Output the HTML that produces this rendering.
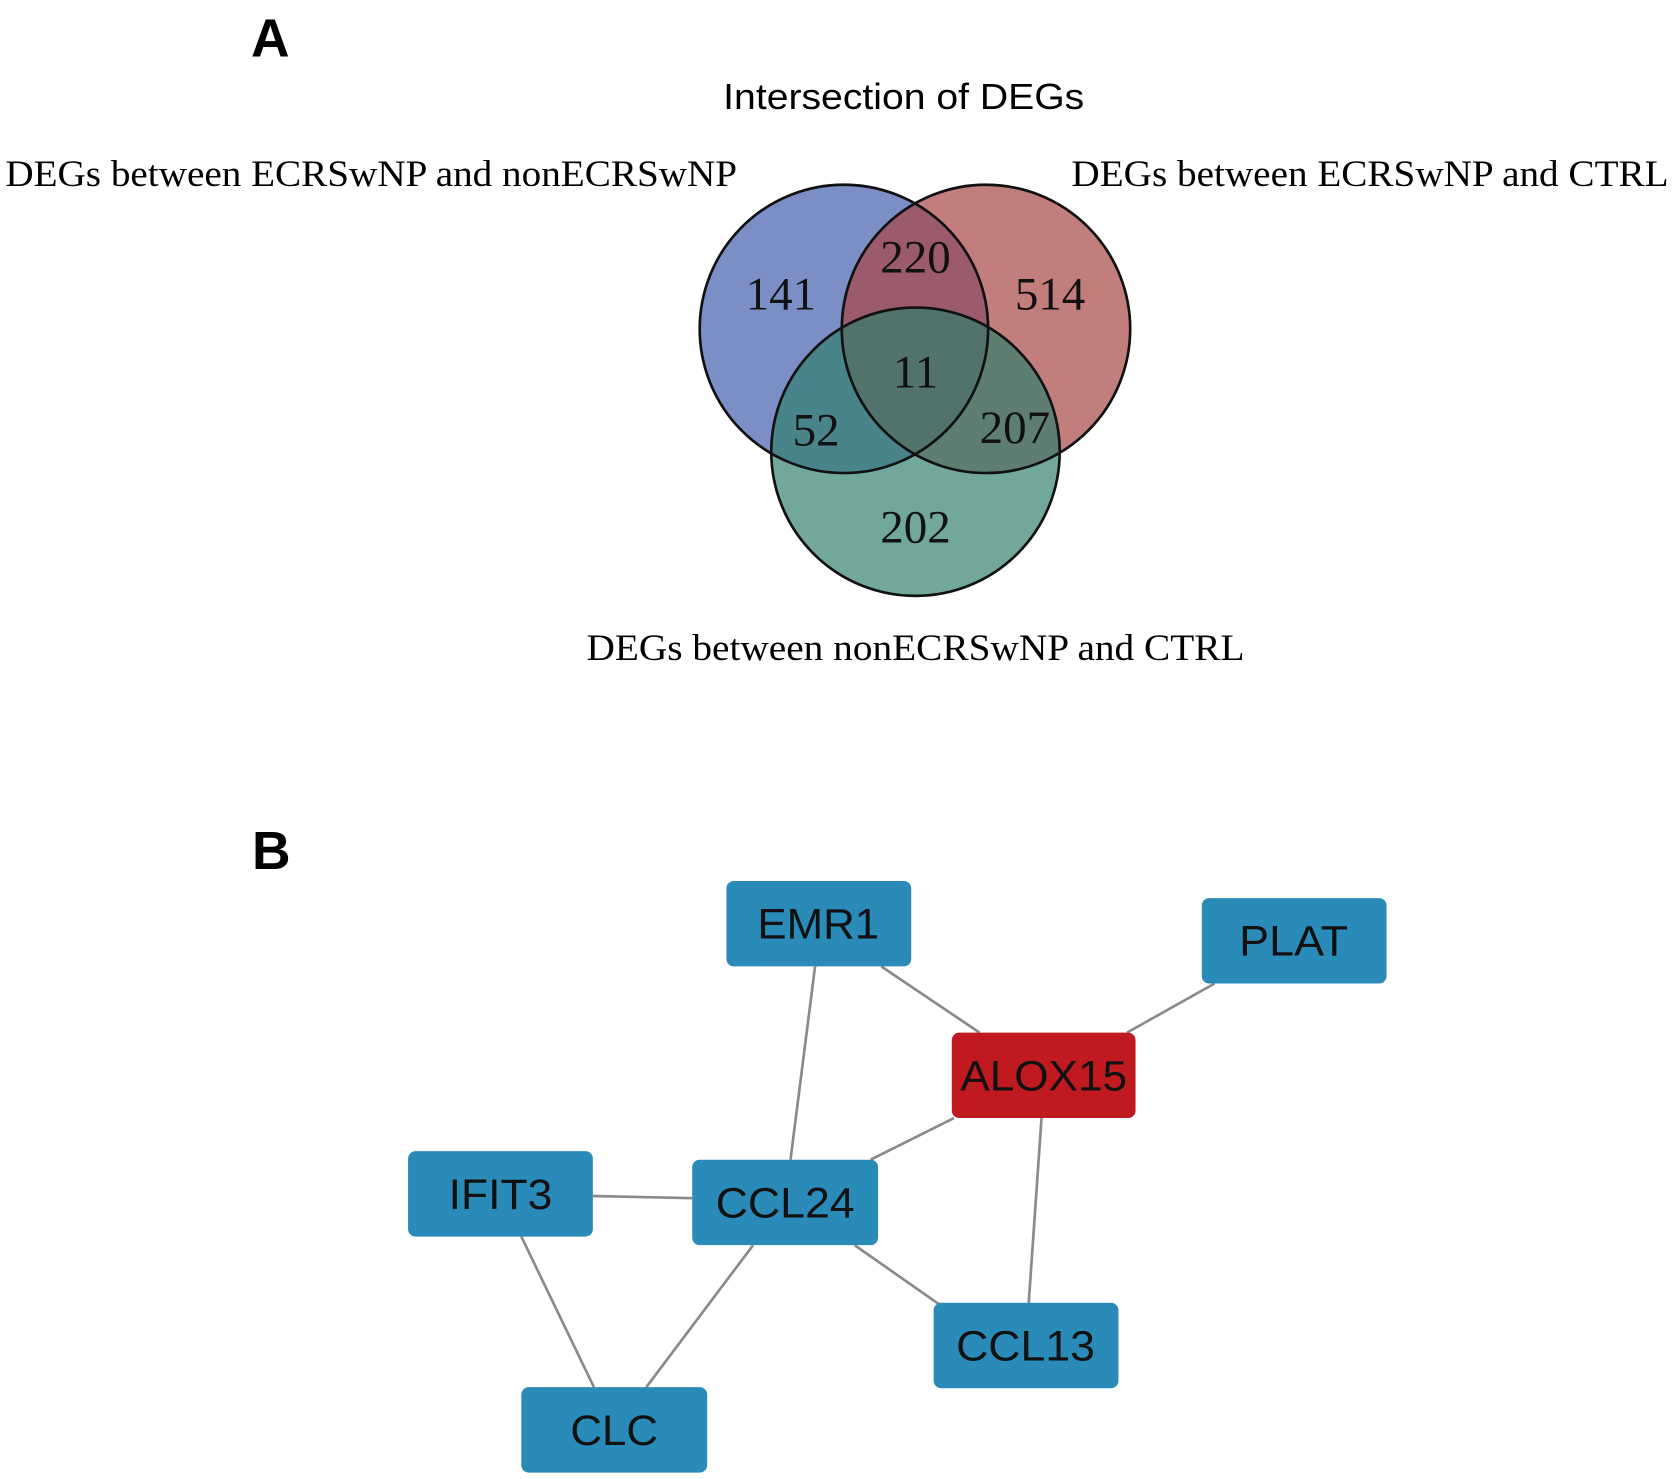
<!DOCTYPE html>
<html><head><meta charset="utf-8"><style>
html,body{margin:0;padding:0;background:#fff;}
svg{display:block;}
</style></head><body>
<svg width="1675" height="1479" viewBox="0 0 1568 1385" preserveAspectRatio="none" xmlns="http://www.w3.org/2000/svg">
<rect width="1568" height="1385" fill="#fff"/>
<text x="253" y="53" font-family="Liberation Sans, sans-serif" font-weight="bold" font-size="50" text-anchor="middle">A</text>
<text x="254" y="814" font-family="Liberation Sans, sans-serif" font-weight="bold" font-size="50" text-anchor="middle">B</text>
<text x="677" y="102" font-family="Liberation Sans, sans-serif" font-size="34" textLength="338" lengthAdjust="spacingAndGlyphs">Intersection of DEGs</text>
<g font-family="Liberation Serif, serif" font-size="35">
<text x="5" y="174" textLength="685" lengthAdjust="spacingAndGlyphs">DEGs between ECRSwNP and nonECRSwNP</text>
<text x="1003" y="174" textLength="559" lengthAdjust="spacingAndGlyphs">DEGs between ECRSwNP and CTRL</text>
<text x="549" y="618" textLength="616" lengthAdjust="spacingAndGlyphs">DEGs between nonECRSwNP and CTRL</text>
</g>
<circle cx="790" cy="308" r="135" fill="#4a62b0" fill-opacity="0.72"/>
<circle cx="923" cy="308" r="135" fill="#a84646" fill-opacity="0.7"/>
<circle cx="857" cy="423" r="135" fill="#2f7f6c" fill-opacity="0.68"/>
<g fill="none" stroke="#111" stroke-width="2.5">
<circle cx="790" cy="308" r="135"/><circle cx="923" cy="308" r="135"/><circle cx="857" cy="423" r="135"/>
</g>
<g font-family="Liberation Serif, serif" font-size="44" text-anchor="middle" fill="#111">
<text x="731" y="290">141</text><text x="857" y="255">220</text><text x="983" y="290">514</text>
<text x="857" y="363">11</text><text x="764" y="417">52</text><text x="950" y="415">207</text>
<text x="857" y="508">202</text>
</g>
<g stroke="#8a8a8a" stroke-width="2.5">
<line x1="763" y1="905" x2="740" y2="1086"/><line x1="825" y1="905" x2="917" y2="967"/>
<line x1="1137" y1="921" x2="1055" y2="967"/><line x1="893" y1="1047" x2="815" y2="1086"/>
<line x1="975" y1="1047" x2="963" y2="1220"/><line x1="555" y1="1120" x2="648" y2="1122"/>
<line x1="488" y1="1158" x2="556" y2="1299"/><line x1="705" y1="1166" x2="605" y2="1299"/>
<line x1="800" y1="1166" x2="880" y2="1222"/>
</g>
<g fill="#2a8ab8">
<rect x="680" y="825" width="173" height="80" rx="7"/>
<rect x="1125" y="841" width="173" height="80" rx="7"/>
<rect x="382" y="1078" width="173" height="80" rx="7"/>
<rect x="648" y="1086" width="174" height="80" rx="7"/>
<rect x="874" y="1220" width="173" height="80" rx="7"/>
<rect x="488" y="1299" width="174" height="80" rx="7"/>
</g>
<rect x="891" y="967" width="172" height="80" rx="7" fill="#c01a20"/>
<g font-family="Liberation Sans, sans-serif" font-size="40" fill="#111" lengthAdjust="spacingAndGlyphs">
<text x="709" y="879" textLength="114" lengthAdjust="spacingAndGlyphs">EMR1</text>
<text x="1160" y="895" textLength="102" lengthAdjust="spacingAndGlyphs">PLAT</text>
<text x="899" y="1021" textLength="156" lengthAdjust="spacingAndGlyphs">ALOX15</text>
<text x="420" y="1132" textLength="97" lengthAdjust="spacingAndGlyphs">IFIT3</text>
<text x="670" y="1140" textLength="130" lengthAdjust="spacingAndGlyphs">CCL24</text>
<text x="895" y="1274" textLength="130" lengthAdjust="spacingAndGlyphs">CCL13</text>
<text x="534" y="1353" textLength="82" lengthAdjust="spacingAndGlyphs">CLC</text>
</g>
</svg>
</body></html>
